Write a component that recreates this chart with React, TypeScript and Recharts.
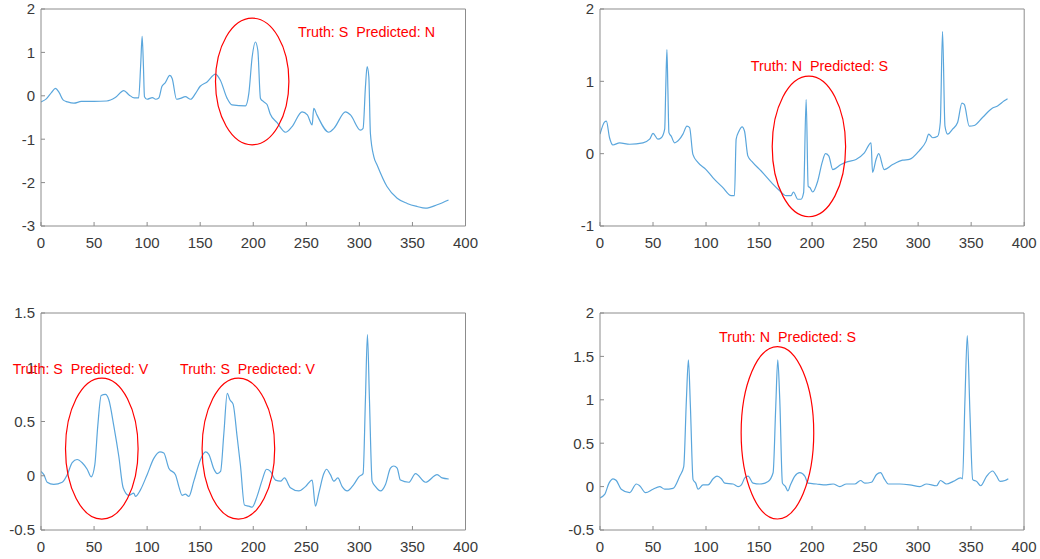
import React from 'react';
import { LineChart, Line, XAxis, YAxis, ReferenceDot, ReferenceLine } from 'recharts';

// ECG beats, [sample, amplitude]
const beatTopLeft: [number, number][] = [
  [0, -0.14], [5, -0.07], [10, 0.08], [13.6, 0.17], [17, 0.08], [21, -0.1], [25, -0.14], [31, -0.17],
  [38, -0.13], [50, -0.13], [62, -0.12], [70, -0.04], [78, 0.12], [83, 0.02], [88, -0.05], [92, -0.05],
  [94, 0.75], [95.3, 1.37], [96.5, 0.7], [97.5, -0.02], [100, -0.08], [105, -0.04], [108, -0.08], [111, -0.05],
  [114, 0.22], [117, 0.3], [121.4, 0.47], [123.6, 0.4], [127.7, -0.08], [131.4, -0.06], [136, -0.02], [141, -0.08],
  [145.5, 0.05], [150, 0.22], [156.5, 0.32], [164.4, 0.5], [169, 0.36], [175.4, -0.06], [180, -0.21], [192.7, -0.23],
  [195.8, 0.05], [199, 0.9], [202, 1.24], [204.3, 1.05], [206.8, -0.06], [210, -0.14], [213, -0.2], [216, -0.42],
  [222.5, -0.62], [230.4, -0.84], [236.6, -0.71], [246, -0.37], [251, -0.44], [255.5, -0.67], [257, -0.29], [260, -0.44],
  [271.2, -0.84], [276, -0.75], [287, -0.37], [291.6, -0.44], [301, -0.79], [303.5, -0.75], [305.7, 0.2], [307.3, 0.67],
  [308.9, 0.44], [310.4, -0.87], [313.6, -1.4], [316.8, -1.6], [326, -2.09], [335.6, -2.36], [345, -2.48], [354.4, -2.55],
  [362.3, -2.59], [373.3, -2.51], [384, -2.4],
];

const beatTopRight: [number, number][] = [
  [0, 0.27], [4.4, 0.44], [6, 0.45], [9, 0.22], [12.2, 0.12], [18.5, 0.15], [28, 0.13], [40.5, 0.15],
  [46.8, 0.2], [50, 0.28], [54.6, 0.2], [57.8, 0.22], [61, 0.34], [62, 0.9], [63.1, 1.44], [64, 0.9],
  [65, 0.29], [67.2, 0.24], [70.3, 0.15], [75, 0.2], [78.2, 0.27], [82, 0.38], [84.5, 0.36], [87.6, -0.01],
  [92.3, -0.12], [100, -0.22], [106.4, -0.33], [115.9, -0.47], [123.7, -0.58], [126.8, -0.58], [128.4, 0.2], [131, 0.31],
  [134, 0.37], [136.3, 0.31], [139.4, -0.03], [144, -0.12], [152, -0.24], [163, -0.42], [169.2, -0.51], [175.5, -0.58],
  [180.2, -0.58], [182.4, -0.53], [186.5, -0.63], [189.6, -0.63], [192, -0.54], [194.4, 0.75], [196.3, -0.45], [198, -0.47],
  [200.6, -0.53], [205.3, -0.38], [209.5, -0.12], [212.6, 0.0], [215.7, -0.03], [219.5, -0.22], [227.3, -0.15], [233.6, -0.11],
  [241.4, -0.08], [249.3, 0.01], [255.6, 0.15], [257, -0.26], [260.3, -0.08], [262.8, 0], [268, -0.22], [276, -0.15],
  [285.4, -0.09], [291.7, -0.08], [301, 0.04], [307.4, 0.17], [310, 0.27], [313.7, 0.22], [318.4, 0.24], [320.9, 0.43],
  [323, 1.69], [325.3, 0.38], [327.8, 0.27], [332.5, 0.34], [337.2, 0.43], [341.3, 0.7], [343.5, 0.68], [348.2, 0.38],
  [352.9, 0.39], [360.7, 0.5], [370.2, 0.63], [374.9, 0.66], [381.2, 0.73], [384.3, 0.76],
];

const beatBottomLeft: [number, number][] = [
  [0, 0.04], [2.7, 0.01], [5.8, -0.06], [12, -0.08], [20, -0.06], [24.7, 0.01], [29.4, 0.12], [34, 0.15],
  [38.8, 0.12], [43.5, 0.06], [47.3, -0.01], [50.7, 0.1], [53.5, 0.46], [56.7, 0.74], [60.7, 0.75], [63.9, 0.7],
  [68.6, 0.46], [73.3, 0.18], [77.4, -0.11], [82.7, -0.18], [87.4, -0.16], [89, -0.19], [93.7, -0.13], [100, 0.01],
  [106.3, 0.16], [112, 0.22], [115.7, 0.21], [120.4, 0.07], [126.7, 0.01], [129.9, -0.1], [133, -0.18], [136, -0.17],
  [139.3, -0.19], [144, -0.05], [150.3, 0.15], [155, 0.22], [158, 0.2], [163, 0.06], [166, 0.02], [169.2, 0.04],
  [172.3, 0.39], [175.5, 0.76], [178, 0.7], [181, 0.66], [184.8, 0.36], [188, 0.09], [191.7, -0.27], [195.8, -0.28],
  [199, -0.29], [203.6, -0.19], [208.4, -0.04], [212.5, 0.06], [216.2, 0.04], [221, -0.04], [225.7, -0.05], [229.4, -0.02],
  [235, -0.11], [243, -0.14], [249.2, -0.1], [255.5, -0.04], [258.6, -0.28], [261.8, -0.16], [266.5, 0.02], [269, 0.06],
  [272.7, 0.01], [275.9, -0.05], [279.7, -0.02], [283.8, -0.1], [288.5, -0.14], [294.8, -0.08], [299.5, -0.01], [303.5, 0.02],
  [305.7, 0.7], [307.6, 1.3], [309.5, 0.7], [312, -0.05], [315.2, -0.1], [319.9, -0.14], [324.6, -0.08], [329.3, 0.07],
  [332.4, 0.09], [335.6, 0.07], [338.7, -0.04], [346.6, -0.06], [352.9, 0.02], [362.3, -0.06], [373.3, 0.01], [378, -0.02],
  [384.2, -0.03],
];

const beatBottomRight: [number, number][] = [
  [0, -0.13], [4.4, -0.09], [8.5, 0.04], [12.3, 0.09], [15.4, 0.07], [20, -0.03], [28, -0.07], [34.3, 0.03],
  [37.4, 0.01], [43, -0.07], [50, -0.03], [56.3, 0], [61, -0.03], [68.9, -0.02], [75.2, 0.12], [79, 0.23],
  [81.5, 1.0], [83.4, 1.46], [85.3, 0.92], [87.8, 0.08], [90.3, 0.04], [92.5, -0.03], [97.2, 0.02], [102, 0.02],
  [106.7, 0.09], [110.4, 0.12], [114.5, 0.09], [117.7, 0.04], [125.5, 0.03], [130.3, 0.0], [133.4, 0.02], [136.6, 0.1],
  [139.7, 0.12], [144.4, 0.04], [150.7, 0.03], [158.6, 0.06], [163.3, 0.16], [165.8, 0.92], [167.7, 1.46], [169.6, 1.0],
  [172.1, 0.04], [175, 0], [177.2, -0.05], [179.7, 0.02], [183.8, 0.12], [188.5, 0.16], [193.2, 0.12], [196.3, 0.04],
  [204.2, 0.03], [213.6, 0.02], [220, 0.03], [226.2, 0.0], [232.5, 0.03], [240.4, 0.03], [245.8, 0.07], [249.8, 0.04],
  [256, 0.05], [260.9, 0.14], [264.6, 0.16], [268.7, 0.08], [271.9, 0.03], [282.9, 0.03], [292.3, 0.02], [301.8, 0],
  [308, 0.03], [317.5, 0.01], [321.2, 0.07], [326.9, 0.03], [333.2, 0.06], [340.2, 0.1], [342, 0.09], [344.3, 1.0],
  [346.5, 1.74], [349, 0.85], [351.6, 0.08], [355.3, 0.06], [359.1, 0.01], [364.8, 0.12], [370.4, 0.18], [374.2, 0.12],
  [377.4, 0.06], [382.1, 0.07], [385.2, 0.09],
];

const xTicks = [0, 50, 100, 150, 200, 250, 300, 350, 400];
const yTicksTopLeft = [-3, -2, -1, 0, 1, 2];
const yTicksTopRight = [-1, 0, 1, 2];
const yTicksBottomLeft = [-0.5, 0, 0.5, 1, 1.5];
const yTicksBottomRight = [-0.5, 0, 0.5, 1, 1.5, 2];

// circled beats: [sample, amplitude] of the ellipse centre
const circlesTopLeft: [number, number][] = [[199, 0.33]];
const circlesTopRight: [number, number][] = [[197, 0.1]];
const circlesBottomLeft: [number, number][] = [[57.3, 0.25], [186, 0.25]];
const circlesBottomRight: [number, number][] = [[167.4, 0.62]];

const AXIS = '#8c8c8c';
const LABEL = '#3a3a3a';
const TRACE = '#5aa6dc';
const FONT = '"Liberation Sans", Arial, sans-serif';

type PanelProps = {
  left: number;
  top: number;
  plotW: number;
  plotH: number;
  points: [number, number][];
  yTicks: number[];
  circles: [number, number][];
  rx: number;
  ry: number;
};

function Panel({ left, top, plotW, plotH, points, yTicks, circles, rx, ry }: PanelProps) {
  const data = points.map(([x, y]) => ({ x, y }));
  const yDomain: [number, number] = [yTicks[0], yTicks[yTicks.length - 1]];
  const padL = 45;
  const padT = 9;
  const padR = 15;
  const padB = 32;
  const tickStyle = { fill: LABEL, fontSize: 15, fontFamily: FONT };
  const frame = { stroke: AXIS, strokeWidth: 1 };
  return (
    <div style={{ position: 'absolute', left: left - padL, top: top - padT }}>
      <LineChart
        width={plotW + padL + padR}
        height={plotH + padT + padB}
        data={data}
        margin={{ top: padT, right: padR, left: 0, bottom: 0 }}
      >
        <XAxis xAxisId="b" dataKey="x" type="number" domain={[0, 400]} ticks={xTicks} allowDataOverflow
          height={padB} tickSize={-4} tickMargin={15} axisLine={frame} tickLine={frame} tick={tickStyle} />
        <XAxis xAxisId="t" orientation="top" dataKey="x" type="number" domain={[0, 400]} ticks={xTicks} allowDataOverflow
          height={0} tick={false} tickSize={-4} axisLine={frame} tickLine={frame} />
        <YAxis yAxisId="l" type="number" domain={yDomain} ticks={yTicks} allowDataOverflow
          width={padL} tickSize={-4} tickMargin={10} axisLine={frame} tickLine={frame} tick={tickStyle} />
        <YAxis yAxisId="r" orientation="right" type="number" domain={yDomain} ticks={yTicks} allowDataOverflow
          width={0} tick={false} tickSize={-4} axisLine={frame} tickLine={frame} />
        <ReferenceLine xAxisId="b" yAxisId="l" y={yDomain[1]} stroke={AXIS} ifOverflow="visible" />
        <ReferenceLine xAxisId="b" yAxisId="l" x={400} stroke={AXIS} ifOverflow="visible" />
        <Line xAxisId="b" yAxisId="l" dataKey="y" type="monotone" stroke={TRACE} strokeWidth={1.2}
          dot={false} activeDot={false} isAnimationActive={false} />
        {circles.map(([cx, cy], i) => (
          <ReferenceDot key={i} xAxisId="b" yAxisId="l" x={cx} y={cy} ifOverflow="visible"
            shape={(p: any) => (
              <ellipse cx={p.cx} cy={p.cy} rx={rx} ry={ry} fill="none" stroke="#ff0000" strokeWidth={1.2} />
            )} />
        ))}
      </LineChart>
    </div>
  );
}

const notes = [
  { text: 'Truth: S\u00a0 Predicted: N', x: 298, y: 36.7, w: 137 },
  { text: 'Truth: N\u00a0 Predicted: S', x: 750.7, y: 71, w: 137.5 },
  { text: 'Truth: S\u00a0 Predicted: V', x: 12.7, y: 374, w: 135.6 },
  { text: 'Truth: S\u00a0 Predicted: V', x: 180, y: 374, w: 135 },
  { text: 'Truth: N\u00a0 Predicted: S', x: 719, y: 341.7, w: 137 },
];

export default function App() {
  return (
    <div style={{ position: 'absolute', left: 0, top: 0, width: 1040, height: 559, background: '#fff', overflow: 'hidden' }}>
      <Panel left={40.5} top={9} plotW={424.5} plotH={217} points={beatTopLeft} yTicks={yTicksTopLeft}
        circles={circlesTopLeft} rx={36.7} ry={63.3} />
      <Panel left={600.3} top={9} plotW={424.2} plotH={217} points={beatTopRight} yTicks={yTicksTopRight}
        circles={circlesTopRight} rx={36.7} ry={70.3} />
      <Panel left={40.5} top={313} plotW={424.5} plotH={217} points={beatBottomLeft} yTicks={yTicksBottomLeft}
        circles={circlesBottomLeft} rx={36.3} ry={70.5} />
      <Panel left={600.3} top={313} plotW={424} plotH={217} points={beatBottomRight} yTicks={yTicksBottomRight}
        circles={circlesBottomRight} rx={36.3} ry={86.2} />
      <svg width={1040} height={559} style={{ position: 'absolute', left: 0, top: 0, pointerEvents: 'none' }}>
        {notes.map((n, i) => (
          <text key={i} x={n.x} y={n.y} fill="#ff0000" fontSize={14} fontFamily={FONT}
            textLength={n.w} lengthAdjust="spacingAndGlyphs" style={{ whiteSpace: 'pre' }}>
            {n.text}
          </text>
        ))}
      </svg>
    </div>
  );
}
